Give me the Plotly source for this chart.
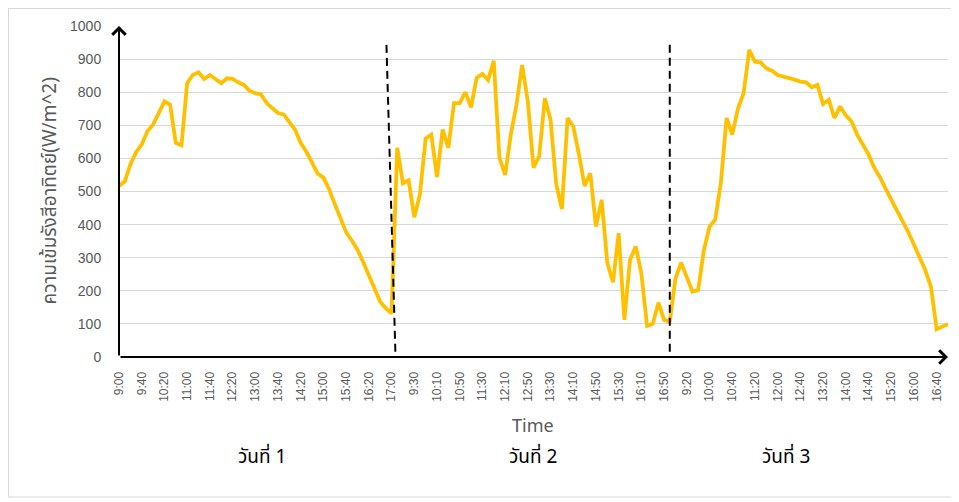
import plotly.graph_objects as go

# ---- data (W/m^2), 10-minute samples 9:00-17:00 for each of three days ----
day1 = [517, 530, 582, 619, 642, 682, 702, 737, 772, 762, 647, 640, 827, 852, 860, 840, 852,
        840, 827, 842, 840, 830, 822, 804, 797, 794, 767, 752, 737, 733, 711, 687, 647, 620,
        587, 554, 542, 507, 462, 420, 377, 352, 324, 287, 247, 204, 167, 147, 132]
day2 = [632, 525, 534, 422, 492, 660, 672, 544, 687, 632, 767, 767, 800, 754, 844, 855, 837,
        895, 602, 550, 672, 762, 882, 772, 572, 607, 782, 717, 522, 447, 722, 697, 612, 517,
        555, 394, 475, 284, 226, 374, 112, 294, 334, 252, 94, 100, 164, 112, 107]
day3 = [237, 285, 242, 197, 202, 322, 394, 415, 527, 722, 672, 750, 797, 928, 892, 890, 872,
        865, 852, 847, 845, 838, 832, 830, 815, 822, 764, 777, 722, 757, 730, 712, 672, 640,
        612, 572, 544, 509, 477, 445, 412, 377, 340, 299, 262, 212, 84, 92, 99]

tick_labels = ["9:00", "9:40", "10:20", "11:00", "11:40", "12:20", "13:00", "13:40", "14:20",
               "15:00", "15:40", "16:20", "17:00",
               "9:30", "10:10", "10:50", "11:30", "12:10", "12:50", "13:30", "14:10", "14:50",
               "15:30", "16:10", "16:50",
               "9:20", "10:00", "10:40", "11:20", "12:00", "12:40", "13:20", "14:00", "14:40",
               "15:20", "16:00", "16:40"]
tick_step = 4
day_names = ["วันที่ 1", "วันที่ 2", "วันที่ 3"]
y_title = "ความเข้มรังสีอาทิตย์(W/m^2)"
x_title = "Time"

values = day1 + day2 + day3
xs = list(range(len(values)))
n = len(values)
b1 = len(day1) - 1              # last point of day 1
b2 = len(day1) + len(day2) - 1  # last point of day 2

# page layout (the html body adds an 8px margin around the figure)
OFF = 8
PLOT_L, PLOT_R, PLOT_T, PLOT_B = 119, 948, 26, 357
W, H = 959 - OFF, 502 - OFF
ML, MT = PLOT_L - OFF, PLOT_T - OFF
MR = OFF + W - PLOT_R
MB = OFF + H - PLOT_B
PW, PH = PLOT_R - PLOT_L, PLOT_B - PLOT_T

def px(xp):
    return (xp - PLOT_L) / PW

def py(yp):
    return (PLOT_B - yp) / PH

grey = "#595959"
thai_font = "Noto Sans Thai, Loma, Garuda, Noto Sans, DejaVu Sans, sans-serif"

fig = go.Figure()
fig.add_trace(go.Scatter(x=xs, y=values, mode="lines",
                         line=dict(color="#FFC000", width=3.8), hoverinfo="skip",
                         showlegend=False))

fig.update_layout(
    width=W, height=H,
    margin=dict(l=ML, r=MR, t=MT, b=MB, autoexpand=False),
    paper_bgcolor="white", plot_bgcolor="white",
    xaxis=dict(range=[0, n - 1], tickmode="array",
               tickvals=list(range(0, n, tick_step)), ticktext=tick_labels,
               tickangle=-90, tickfont=dict(family="Liberation Sans, Arial", size=12, color=grey),
               showgrid=False, zeroline=False, showline=False,
               ticks="outside", ticklen=9, tickcolor="rgba(0,0,0,0)"),
    yaxis=dict(range=[0, 1000], dtick=100, tick0=0,
               tickfont=dict(family="Liberation Sans, Arial", size=14, color=grey),
               showgrid=True, gridcolor="#d9d9d9", gridwidth=1.3,
               zeroline=False, showline=False,
               ticks="outside", ticklen=14, tickcolor="rgba(0,0,0,0)"),
)

# axis lines with arrow heads
fig.add_annotation(x=n - 1, y=0, ax=0, ay=0, xref="x", yref="y", axref="x", ayref="y",
                   text="", showarrow=True, arrowhead=4, arrowsize=1.3, arrowwidth=2,
                   arrowcolor="black", standoff=0)
fig.add_annotation(x=0, y=1000, ax=0, ay=0, xref="x", yref="y", axref="x", ayref="y",
                   text="", showarrow=True, arrowhead=4, arrowsize=1.3, arrowwidth=2,
                   arrowcolor="black", standoff=0)

# day separators (dashed)
fig.add_shape(type="line", xref="x", yref="y", x0=b1 - 0.9, y0=943, x1=b1 + 0.7, y1=0,
              line=dict(color="black", width=2, dash="8px,5px"))
fig.add_shape(type="line", xref="x", yref="y", x0=b2, y0=943, x1=b2, y1=15,
              line=dict(color="black", width=2, dash="8px,5px"))

# titles
fig.add_annotation(x=px(50), y=0.5, xref="paper", yref="paper", text=y_title,
                   textangle=-90, showarrow=False, xanchor="center", yanchor="middle",
                   font=dict(family=thai_font, size=19, color=grey))
fig.add_annotation(x=px(533), y=py(425), xref="paper", yref="paper", text=x_title,
                   showarrow=False, xanchor="center", yanchor="middle",
                   font=dict(family="Noto Sans, Liberation Sans", size=18, color=grey))
for name, xc in zip(day_names, [262, 533, 786]):
    fig.add_annotation(x=px(xc), y=py(457), xref="paper", yref="paper", text=name,
                       showarrow=False, xanchor="center", yanchor="middle",
                       font=dict(family=thai_font, size=19, color="black"))

# outer frame
frame = dict(color="#d9d9d9", width=1)
fig.add_shape(type="line", xref="paper", yref="paper", x0=px(8.5), x1=px(8.5), y0=py(8), y1=py(497), line=frame)
fig.add_shape(type="line", xref="paper", yref="paper", x0=px(8), x1=px(962), y0=py(497), y1=py(497), line=frame)
fig.add_shape(type="line", xref="paper", yref="paper", x0=px(8), x1=px(962), y0=py(8.5), y1=py(8.5), line=frame)

fig.write_html("out.html")
